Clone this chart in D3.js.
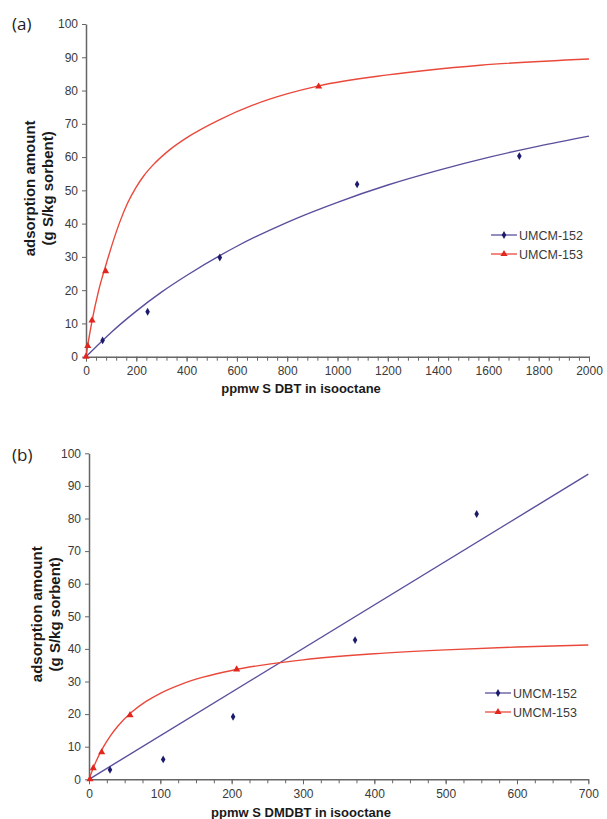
<!DOCTYPE html>
<html><head><meta charset="utf-8">
<script src="https://cdn.jsdelivr.net/npm/d3@7"></script>
<style>body{margin:0;background:#fff}svg{display:block}</style>
</head><body>
<script>
const seriesNames = ["UMCM-152", "UMCM-153"];
// Panel (a)
const aBlueX = [66, 245, 532, 1078, 1723];
const aBlueY = [4.9, 13.5, 29.8, 51.8, 60.3];
const aRedX = [0, 7, 24, 78, 925];
const aRedY = [0, 3.2, 10.9, 25.7, 81.2];
const aBlueFitX = [0, 100, 200, 300, 400, 600, 800, 1000, 1200, 1400, 1600, 1800, 2000];
const aBlueFitY = [0, 7.3, 13.7, 19.4, 24.4, 33.2, 40.4, 46.4, 51.6, 56.0, 59.9, 63.3, 66.3];
const aRedFitX = [0, 10, 24, 50, 80, 132, 165, 199, 230, 265, 331, 398, 530, 663, 795, 925, 1200, 1567, 2000];
const aRedFitY = [0, 4.8, 10.8, 19.8, 27.8, 40, 46.1, 50.9, 54.4, 57.5, 62.1, 65.7, 71.2, 75.6, 78.9, 81.4, 84.7, 87.6, 89.5];
const aXTicks = [0, 200, 400, 600, 800, 1000, 1200, 1400, 1600, 1800, 2000];
const aYTicks = [0, 10, 20, 30, 40, 50, 60, 70, 80, 90, 100];
// Panel (b)
const bBlueX = [29.4, 104, 202, 373, 543.5];
const bBlueY = [2.9, 6.1, 19.2, 42.7, 81.4];
const bRedX = [1.4, 6, 17.8, 57.5, 207];
const bRedY = [0, 3.4, 8.3, 19.7, 33.7];
const bBlueFitX = [0, 700];
const bBlueFitY = [0, 93.6];
const bRedFitX = [0, 5, 10, 20, 30, 40, 60, 80, 100, 130, 160, 200, 250, 300, 400, 500, 600, 700];
const bRedFitY = [0, 2.94, 5.53, 9.86, 13.34, 16.2, 20.63, 23.89, 26.39, 29.22, 31.32, 33.39, 35.27, 36.63, 38.5, 39.71, 40.57, 41.2];
const bXTicks = [0, 100, 200, 300, 400, 500, 600, 700];
const bYTicks = [0, 10, 20, 30, 40, 50, 60, 70, 80, 90, 100];

const W = 607, H = 819;
const blueLine = "#5a4f9c", blueMark = "#1c1a6b", redLine = "#e9493b", redMark = "#e2261e";
const axisCol = "#666", textCol = "#3a3a3a";
const FONT = "Arial, 'Liberation Sans', sans-serif";
const svg = d3.select("body").append("svg").attr("width", W).attr("height", H);

function zip(a, b) { return a.map((v, i) => [v, b[i]]); }

function panel(cfg) {
  const x = d3.scaleLinear().domain(cfg.xDomain).range(cfg.xRange);
  const y = d3.scaleLinear().domain([0, 100]).range(cfg.yRange);
  const g = svg.append("g");
  const minor = d3.range(cfg.xDomain[0], cfg.xDomain[1] + 1e-9, cfg.minorStep);
  g.append("g").attr("transform", `translate(0,${cfg.yRange[0]})`)
    .call(d3.axisBottom(x).tickValues(minor).tickSize(4).tickFormat(""))
    .call(s => s.select(".domain").remove())
    .call(s => s.selectAll("line").attr("stroke", axisCol));
  const xa = g.append("g").attr("transform", `translate(0,${cfg.yRange[0]})`)
    .call(d3.axisBottom(x).tickValues(cfg.xTicks).tickSize(5).tickSizeOuter(0).tickPadding(5).tickFormat(d3.format("d")));
  xa.select(".domain").attr("stroke", axisCol).attr("stroke-width", 1.5);
  xa.selectAll("line").attr("stroke", axisCol);
  xa.selectAll("text").attr("font-family", FONT).attr("font-size", 12).attr("fill", textCol);
  const ya = g.append("g").attr("transform", `translate(${cfg.xRange[0]},0)`)
    .call(d3.axisLeft(y).tickValues(cfg.yTicks).tickSize(4).tickSizeOuter(0).tickPadding(4));
  ya.select(".domain").attr("stroke", axisCol).attr("stroke-width", 1.5);
  ya.selectAll("line").attr("stroke", axisCol);
  ya.selectAll("text").attr("font-family", FONT).attr("font-size", 12).attr("fill", textCol);

  const line = d3.line().x(d => x(d[0])).y(d => y(d[1])).curve(d3.curveMonotoneX);
  g.append("path").attr("d", line(zip(cfg.blueFitX, cfg.blueFitY))).attr("fill", "none").attr("stroke", blueLine).attr("stroke-width", 1.4);
  g.append("path").attr("d", line(zip(cfg.redFitX, cfg.redFitY))).attr("fill", "none").attr("stroke", redLine).attr("stroke-width", 1.4);

  const diamond = d3.symbol().type(d3.symbolDiamond).size(18);
  const tri = d3.symbol().type(d3.symbolTriangle).size(22);
  g.selectAll(".bp").data(zip(cfg.blueX, cfg.blueY)).join("path")
    .attr("d", diamond).attr("transform", d => `translate(${x(d[0])},${y(d[1])})`).attr("fill", blueMark);
  g.selectAll(".rp").data(zip(cfg.redX, cfg.redY)).join("path")
    .attr("d", tri).attr("transform", d => `translate(${x(d[0])},${y(d[1])})`).attr("fill", redMark);

  const lg = g.append("g");
  const lx = cfg.legend[0], ly = cfg.legend[1];
  [[blueLine, blueMark, diamond], [redLine, redMark, tri]].forEach((c, i) => {
    const yy = ly + i * 19;
    lg.append("line").attr("x1", lx).attr("x2", lx + 26).attr("y1", yy).attr("y2", yy).attr("stroke", c[0]).attr("stroke-width", 1.3);
    lg.append("path").attr("d", c[2]).attr("transform", `translate(${lx + 13},${yy})`).attr("fill", c[1]);
    lg.append("text").attr("x", lx + 28).attr("y", yy + 4.5).text(seriesNames[i])
      .attr("font-family", FONT).attr("font-size", 12.5).attr("fill", textCol);
  });

  g.append("text").attr("x", 301).attr("y", cfg.xTitleY).attr("text-anchor", "middle").text(cfg.xTitle)
    .attr("font-family", FONT).attr("font-size", 13).attr("font-weight", "bold").attr("fill", "#1a1a1a");
  const yc = (cfg.yRange[0] + cfg.yRange[1]) / 2 - 2;
  ["adsorption amount", "(g S/kg sorbent)"].forEach((t, i) => {
    g.append("text").attr("transform", `translate(${cfg.yTitleX[i]},${yc}) rotate(-90)`).attr("text-anchor", "middle").text(t)
      .attr("font-family", FONT).attr("font-size", 15).attr("font-weight", "bold").attr("fill", "#1a1a1a");
  });
  g.append("text").attr("x", 12).attr("y", cfg.labelY).text(cfg.label)
    .attr("font-family", "'Open Sans', Arial, sans-serif").attr("font-size", 17).attr("fill", "#222");
}

panel({
  xDomain: [0, 2000], xRange: [86, 589], yRange: [356.7, 24], minorStep: 40,
  xTicks: aXTicks, yTicks: aYTicks,
  blueX: aBlueX, blueY: aBlueY, redX: aRedX, redY: aRedY,
  blueFitX: aBlueFitX, blueFitY: aBlueFitY, redFitX: aRedFitX, redFitY: aRedFitY,
  legend: [491, 235], xTitle: "ppmw S DBT in isooctane", xTitleY: 393, yTitleX: [34.5, 53], label: "(a)", labelY: 30
});
panel({
  xDomain: [0, 700], xRange: [89, 588.3], yRange: [779.3, 453.3], minorStep: 25,
  xTicks: bXTicks, yTicks: bYTicks,
  blueX: bBlueX, blueY: bBlueY, redX: bRedX, redY: bRedY,
  blueFitX: bBlueFitX, blueFitY: bBlueFitY, redFitX: bRedFitX, redFitY: bRedFitY,
  legend: [485, 693], xTitle: "ppmw S DMDBT in isooctane", xTitleY: 817, yTitleX: [42, 59.5], label: "(b)", labelY: 461
});
</script>
</body></html>
